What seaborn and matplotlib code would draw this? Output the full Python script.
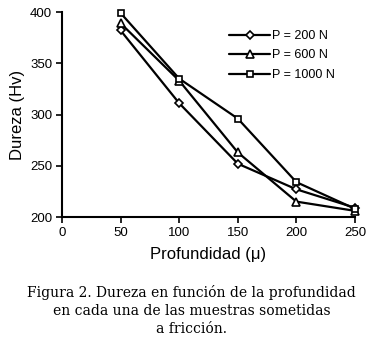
import matplotlib
matplotlib.use("Agg")
import matplotlib.pyplot as plt
import seaborn as sns
import pandas as pd

depth = [50, 100, 150, 200, 250]
hv_200 = [382, 311, 252, 227, 209]
hv_600 = [389, 333, 263, 215, 206]
hv_1000 = [399, 335, 296, 234, 208]
labels = ["P = 200 N", "P = 600 N", "P = 1000 N"]
markers = ["D", "^", "s"]
msizes = [4, 6, 5]

sns.set_theme(style="white")
plt.rcParams['font.family'] = ['Liberation Sans', 'DejaVu Sans']
plt.rcParams['text.color'] = 'black'

rows = []
for lab, vals in zip(labels, [hv_200, hv_600, hv_1000]):
    for d, v in zip(depth, vals):
        rows.append({"Profundidad": d, "Dureza": v, "P": lab})
df = pd.DataFrame(rows)

fig = plt.figure(figsize=(3.76, 3.41), dpi=100)
ax = fig.add_axes([62/376, 1-217/341, (355-62)/376, (217-12)/341])

for lab, m, ms in zip(labels, markers, msizes):
    sub = df[df["P"] == lab]
    sns.lineplot(data=sub, x="Profundidad", y="Dureza", ax=ax, color="black",
                 linewidth=1.6, marker=m, markersize=ms, markerfacecolor="white",
                 markeredgecolor="black", markeredgewidth=1.2, label=lab,
                 clip_on=False)

ax.set_xlim(0, 250)
ax.set_ylim(200, 400)
ax.set_xticks([0, 50, 100, 150, 200, 250])
ax.set_yticks([200, 250, 300, 350, 400])
for s in ["top", "right"]:
    ax.spines[s].set_visible(False)
for s in ["left", "bottom"]:
    ax.spines[s].set_color("black")
    ax.spines[s].set_linewidth(1.5)
ax.tick_params(axis="both", which="both", direction="out", length=4, width=1.2,
               colors="black", labelsize=9.5, bottom=True, left=True, pad=3)
ax.set_xlabel("Profundidad (\u03bc)", fontsize=12, color="black", labelpad=6)
ax.set_ylabel("Dureza (Hv)", fontsize=12, color="black", labelpad=4)

leg = ax.legend(loc="upper left", bbox_to_anchor=(0.54, 0.955), frameon=False,
                fontsize=9, handlelength=3.3, handletextpad=0.15, labelspacing=0.6,
                borderpad=0.2)
for t in leg.get_texts():
    t.set_color("black")

cap_kw = dict(ha="center", va="center", fontsize=10, family=["DejaVu Serif"], color="black")
fig.text(0.51, 1-293/341, "Figura 2. Dureza en funci\u00f3n de la profundidad", **cap_kw)
fig.text(0.51, 1-311/341, "en cada una de las muestras sometidas", **cap_kw)
fig.text(0.51, 1-329/341, "a fricci\u00f3n.", **cap_kw)

fig.savefig("out.png", dpi=100, facecolor="white")
